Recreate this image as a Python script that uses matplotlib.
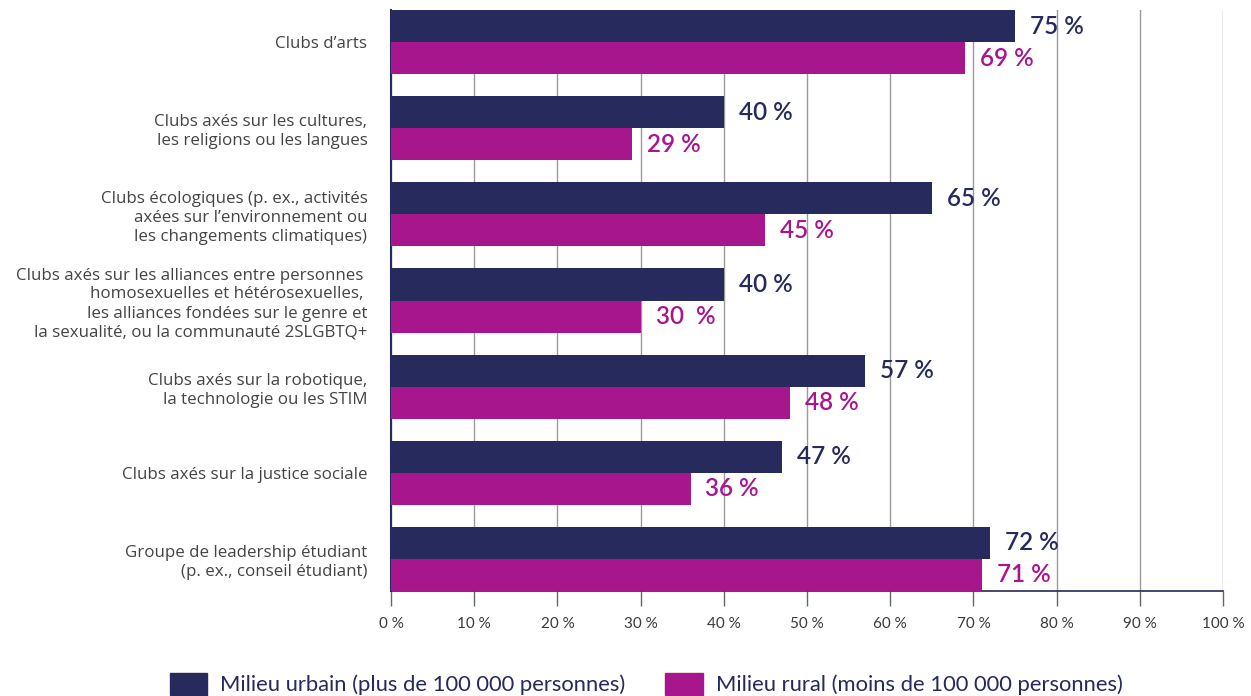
import matplotlib.pyplot as plt
import numpy as np
from matplotlib.patches import Patch

# données
categories = [
    "Clubs d\u2019arts",
    "Clubs axés sur les cultures,\nles religions ou les langues",
    "Clubs écologiques (p. ex., activités\naxées sur l\u2019environnement ou\nles changements climatiques)",
    "Clubs axés sur les alliances entre personnes \nhomosexuelles et hétérosexuelles, \nles alliances fondées sur le genre et\nla sexualité, ou la communauté 2SLGBTQ+",
    "Clubs axés sur la robotique,\nla technologie ou les STIM",
    "Clubs axés sur la justice sociale",
    "Groupe de leadership étudiant\n(p. ex., conseil étudiant)",
]
urbain = [75, 40, 65, 40, 57, 47, 72]
rural = [69, 29, 45, 30, 48, 36, 71]
urbain_txt = ["75 %", "40 %", "65 %", "40 %", "57 %", "47 %", "72 %"]
rural_txt = ["69 %", "29 %", "45 %", "30  %", "48 %", "36 %", "71 %"]
ticks = [0, 10, 20, 30, 40, 50, 60, 70, 80, 90, 100]
tick_labels = ["{} %".format(t) for t in ticks]
legend_labels = ["Milieu urbain (plus de 100 000 personnes)",
                 "Milieu rural (moins de 100 000 personnes)"]

navy = "#262a5c"
magenta = "#a8168e"

plt.rcParams['font.family'] = ['Lato', 'DejaVu Sans']
police = ['Open Sans', 'DejaVu Sans']

fig = plt.figure(figsize=(12.51, 6.96), dpi=100)
ax = fig.add_axes([391 / 1251, 1 - 591 / 696, (1223 - 391) / 1251, (591 - 10) / 696])

h = 0.372
y = np.arange(len(categories))
ax.barh(y - h / 2, urbain, height=h, color=navy, zorder=3)
ax.barh(y + h / 2, rural, height=h, color=magenta, zorder=3)

for i in range(len(categories)):
    ax.text(urbain[i] + 1.8, y[i] - h / 2, urbain_txt[i], color=navy, fontsize=17.5,
            fontweight='semibold', va='center', ha='left', zorder=4)
    ax.text(rural[i] + 1.8, y[i] + h / 2, rural_txt[i], color=magenta, fontsize=17.5,
            fontweight='semibold', va='center', ha='left', zorder=4)

ax.set_ylim(len(categories) - 1 + h, -h)
ax.set_xlim(0, 100)
ax.set_yticks(y)
ax.set_yticklabels(categories, fontsize=12.2, color="#444444", linespacing=1.25,
                   family=police)
ax.tick_params(axis='y', length=0, pad=17)
ax.set_xticks(ticks)
ax.set_xticklabels(tick_labels, fontsize=11, color="#3a3a3a")
ax.tick_params(axis='x', length=11, color="#666666", pad=8, width=1)

ax.grid(axis='x', color="#9a9a9a", linewidth=1, zorder=0)
for s in ['top', 'right']:
    ax.spines[s].set_visible(False)
ax.spines['left'].set_color(navy)
ax.spines['left'].set_linewidth(1.5)
ax.spines['bottom'].set_color(navy)
ax.spines['bottom'].set_linewidth(1.2)

handles = [Patch(color=navy), Patch(color=magenta)]
fig.legend(handles, legend_labels, loc='center left', bbox_to_anchor=(170 / 1251, 1 - 684 / 696),
           ncol=2, frameon=False, fontsize=15.8, labelcolor=navy, handlelength=1.7,
           handleheight=1.2, handletextpad=0.6, columnspacing=1.8,
           borderpad=0, borderaxespad=0)

plt.savefig('out.png', dpi=100)
